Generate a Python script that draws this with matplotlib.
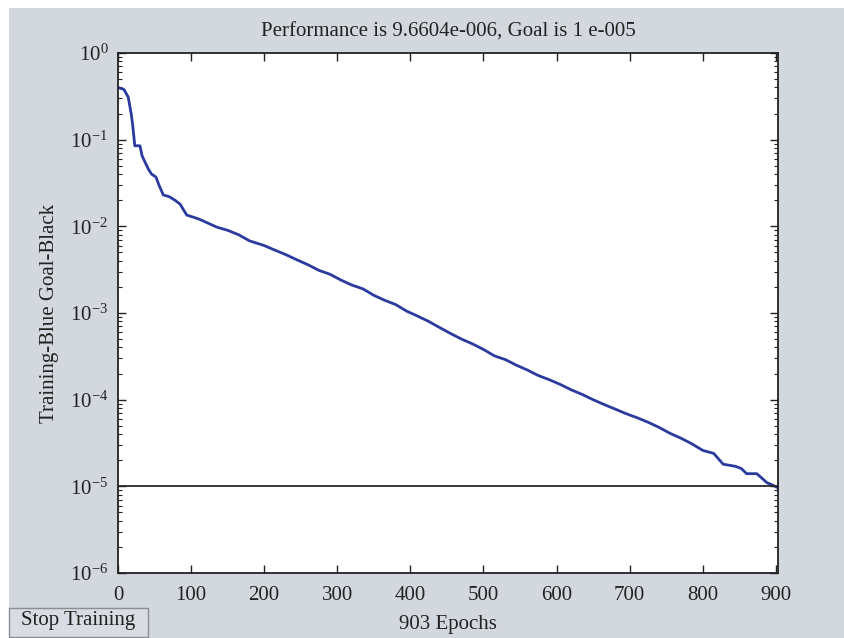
import matplotlib
matplotlib.use("Agg")
import matplotlib.pyplot as plt
from matplotlib.patches import Rectangle
from matplotlib.ticker import LogLocator, LogFormatterMathtext, NullFormatter

plt.rcParams["font.family"] = "Liberation Serif"
plt.rcParams["mathtext.fontset"] = "custom"
plt.rcParams["mathtext.rm"] = "Liberation Serif"
plt.rcParams["mathtext.default"] = "regular"

# training performance
epochs = [0, 8, 14, 18, 20, 23, 30, 33, 37, 42, 46, 52, 56, 62, 70, 78, 85, 94,
          100, 110, 120, 135, 150, 165, 180, 200, 215, 230, 245, 260, 275, 290,
          305, 320, 335, 350, 365, 380, 395, 410, 425, 440, 455, 470, 485, 500,
          515, 530, 545, 560, 575, 590, 605, 620, 635, 650, 665, 680, 695, 710,
          725, 740, 755, 770, 785, 800, 815, 828, 845, 853, 860, 874, 888, 895, 903]
perf = [0.40, 0.38, 0.31, 0.20, 0.15, 0.085, 0.085, 0.065, 0.055, 0.045, 0.040,
        0.037, 0.030, 0.023, 0.022, 0.020, 0.018, 0.0135,
        0.013, 0.0122, 0.0112, 0.0098, 0.0090, 0.0080, 0.0068, 0.0060, 0.0053,
        0.0047, 0.0041, 0.0036, 0.0031, 0.0028,
        0.0024, 0.0021, 0.0019, 0.0016, 0.0014, 0.00125, 0.00105, 0.00092,
        0.00080, 0.00068, 0.00058, 0.00050, 0.00044, 0.00038,
        0.00032, 0.00029, 0.00025, 0.00022, 0.00019, 0.00017, 0.00015,
        0.00013, 0.000115, 0.000100, 0.000088, 0.000078, 0.000069, 0.000062,
        0.000055, 0.000048, 0.000041, 0.000036, 0.000031, 0.000026, 0.000024,
        0.000018, 0.000017, 0.000016, 0.000014, 0.000014, 0.000011, 0.0000104,
        0.0000096]
goal = 1e-5
n_epochs = 903
xticks = [0, 100, 200, 300, 400, 500, 600, 700, 800, 900]

W, H = 844, 638
bg = "#d3d7de"

fig = plt.figure(figsize=(W / 100, H / 100), dpi=100)
fig.patch.set_facecolor("white")
fig.patches.append(Rectangle((9 / W, 0), 1, 1 - 8 / H, transform=fig.transFigure,
                             facecolor=bg, edgecolor="none", zorder=-10))

ax = fig.add_axes([118 / W, 1 - 573 / H, 660 / W, 520 / H])
ax.set_facecolor("white")

ax.plot(epochs, perf, color="#2b3a9e", lw=2.0)
ax.axhline(goal, color="#2a2a2a", lw=1.3)

ax.set_yscale("log")
ax.set_xlim(0, n_epochs)
ax.set_ylim(1e-6, 1)
ax.set_xticks(xticks)
ax.yaxis.set_major_locator(LogLocator(base=10, numticks=10))
ax.yaxis.set_major_formatter(LogFormatterMathtext())
ax.yaxis.set_minor_locator(LogLocator(base=10, subs=range(2, 10), numticks=20))
ax.yaxis.set_minor_formatter(NullFormatter())

ax.tick_params(which="both", direction="in", top=True, right=True, colors="#222222")
ax.tick_params(which="major", length=6, width=1)
ax.tick_params(which="minor", length=3, width=0.8)
ax.tick_params(axis="x", labelsize=15, pad=9)
ax.tick_params(axis="y", labelsize=15, pad=7)
for s in ax.spines.values():
    s.set_color("#222222")
    s.set_linewidth(1.3)

fig.text(448 / W, 1 - 32 / H, "Performance is 9.6604e-006, Goal is 1 e-005",
         ha="center", va="center", fontsize=15, color="#222222")
fig.text(448 / W, 1 - 625 / H, "903 Epochs", ha="center", va="center",
         fontsize=15, color="#222222")
fig.text(50 / W, 1 - 313 / H, "Training-Blue Goal-Black", ha="center", va="center",
         rotation=90, fontsize=15, color="#222222")

# stop button
fig.patches.append(Rectangle((9 / W, 1 / H), 139 / W, 29 / H, transform=fig.transFigure,
                             facecolor="#d9dde3", edgecolor="#8a8d92", lw=1.0))
fig.text(78 / W, 1 - 620 / H, "Stop Training", ha="center", va="center",
         fontsize=15, color="#222222")

fig.savefig("out.png", dpi=100, facecolor=fig.get_facecolor())
